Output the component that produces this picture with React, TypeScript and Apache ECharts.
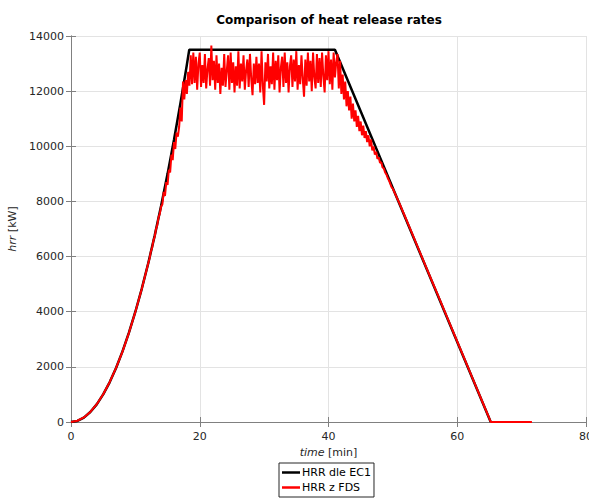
import React, { useEffect, useRef } from "react";
import * as echarts from "echarts";

// ---- Data ----
const xTicks = [0, 20, 40, 60, 80];
const yTicks = [0, 2000, 4000, 6000, 8000, 10000, 12000, 14000];

// HRR according to EC1 (time [min], hrr [kW])
const ec1Time = [0, 1, 2, 3, 4, 5, 6, 7, 8, 9, 10, 11, 12, 13, 14, 15, 16, 17, 18, 18.37, 41.0, 65.2];
const ec1Hrr = [0, 40, 160, 360, 640, 1000, 1440, 1960, 2560, 3240, 4000, 4840, 5760, 6760, 7840, 9000, 10240, 11560, 12960, 13500, 13500, 0];

// HRR from FDS: smooth start
const fdsHeadTime = [0, 1, 2, 3, 4, 5, 6, 7, 8, 9, 10, 11];
const fdsHeadHrr = [0, 45, 165, 365, 645, 1005, 1445, 1960, 2555, 3235, 3995, 4835];
// HRR from FDS: noisy part, sampled every 0.2 min starting at 12.0 min
const fdsNoisyStart = 12.0;
const fdsNoisyStep = 0.2;
const fdsNoisyHrr = [
  5760, 5930, 6180, 6320, 6580, // 12
  6720, 6990, 7140, 7420, 7560, // 13
  7820, 7900, 8350, 8200, 8700, // 14
  8600, 9150, 9050, 9700, 9500, // 15
  10150, 9900, 10500, 10350, 10700, // 16
  11400, 10900, 12350, 11700, 12400, // 17
  11900, 12700, 12200, 13300, 12250, // 18
  13400, 12300, 13250, 12050, 13000, // 19
  13400, 12150, 12950, 12300, 13350, // 20
  12100, 12800, 13200, 12200, 13650, // 21
  12400, 13100, 12050, 13300, 12300, // 22
  13000, 11900, 12850, 12200, 13350, // 23
  12150, 12750, 13300, 12050, 13400, // 24
  12300, 13050, 11950, 12900, 12200, // 25
  13450, 12100, 13000, 12350, 13300, // 26
  12050, 12750, 13150, 12150, 13350, // 27
  12450, 11850, 13000, 12250, 13250, // 28
  12300, 13000, 11950, 13450, 12200, // 29
  11500, 13050, 12350, 13350, 12100, // 30
  12900, 12250, 13400, 12050, 13100, // 31
  12400, 13300, 11950, 12850, 13250, // 32
  12150, 13400, 12300, 13050, 11950, // 33
  12900, 13300, 12150, 13150, 12350, // 34
  13450, 12050, 12950, 12250, 13300, // 35
  12450, 11800, 13150, 12200, 13400, // 36
  12350, 13100, 12000, 13400, 12500, // 37
  12100, 13350, 12300, 13200, 12150, // 38
  13400, 12550, 11950, 13300, 12400, // 39
  13450, 12250, 13150, 12050, 13400, // 40
  12500, 13050, 13350, 12100, 13100, // 41
  11900, 12600, 11700, 12350, 11450, // 42
  12000, 11300, 11800, 11000, 11550, // 43
  10900, 11300, 10700, 11100, 10550, // 44
  10900, 10400, 10750, 10300, 10550, // 45
  10150, 10400, 10000, 10250, 9850, // 46
  10000, 9700, 9800, 9550, 9600, // 47
  9400, 9420, 9230, 9200, 9050, // 48
  8980, 8850, 8760, 8640, 8520, // 49
];
// HRR from FDS: tail
const fdsTailTime = [50, 51, 52, 53, 54, 55, 56, 57, 58, 59, 60, 61, 62, 63, 64, 65, 65.2, 71.6];
const fdsTailHrr = [8460, 7940, 7390, 6830, 6270, 5710, 5150, 4600, 4040, 3480, 2920, 2360, 1800, 1240, 680, 120, 0, 0];

const FONT = "DejaVu Sans";
const AXIS_COLOR = "#808080";
const LABEL_COLOR = "#262626";

export default function App() {
  const ref = useRef<HTMLDivElement>(null);

  useEffect(() => {
    if (!ref.current) return;
    const chart = echarts.init(ref.current, undefined, { renderer: "svg" });

    const ec1Data = ec1Time.map((t, i) => [t, ec1Hrr[i]]);
    const fdsData: number[][] = [];
    fdsHeadTime.forEach((t, i) => fdsData.push([t, fdsHeadHrr[i]]));
    fdsNoisyHrr.forEach((v, i) =>
      fdsData.push([Math.round((fdsNoisyStart + i * fdsNoisyStep) * 100) / 100, v])
    );
    fdsTailTime.forEach((t, i) => fdsData.push([t, fdsTailHrr[i]]));

    const common = {
      min: xTicks[0],
      max: xTicks[xTicks.length - 1],
      interval: xTicks[1] - xTicks[0],
    };
    const commonY = {
      min: yTicks[0],
      max: yTicks[yTicks.length - 1],
      interval: yTicks[1] - yTicks[0],
    };
    const plain = (v: number) => String(v);

    chart.setOption({
      animation: false,
      backgroundColor: "#ffffff",
      title: {
        text: "Comparison of heat release rates",
        left: 329,
        top: 14,
        padding: 0,
        textAlign: "center",
        textStyle: { fontFamily: FONT, fontSize: 12, fontWeight: "bold", color: "#000" },
      },
      grid: {
        left: 71,
        top: 36,
        right: 3,
        bottom: 76,
        containLabel: false,
        outerBoundsMode: "none",
      },
      legend: {
        orient: "vertical",
        left: 279,
        top: 463,
        padding: [4, 3, 4, 3],
        itemGap: 4,
        itemWidth: 18,
        itemHeight: 2.5,
        icon: "rect",
        borderColor: "#262626",
        borderWidth: 1,
        borderRadius: 0,
        backgroundColor: "#fff",
        textStyle: { fontFamily: FONT, fontSize: 11, color: "#000", padding: [0, 0, 0, -3] },
        data: ["HRR dle EC1", "HRR z FDS"],
      },
      xAxis: [
        {
          type: "value",
          position: "bottom",
          ...common,
          name: "{i|time} [min]",
          nameLocation: "middle",
          nameGap: 24,
          nameTextStyle: {
            fontFamily: FONT,
            fontSize: 11,
            color: LABEL_COLOR,
            rich: { i: { fontFamily: FONT, fontSize: 11, color: LABEL_COLOR, fontStyle: "italic" } },
          },
          axisLine: { show: true, lineStyle: { color: AXIS_COLOR, width: 1 } },
          axisTick: { show: true, inside: true, length: 5, lineStyle: { color: AXIS_COLOR } },
          axisLabel: { fontFamily: FONT, fontSize: 11, color: LABEL_COLOR, margin: 9, formatter: plain },
          splitLine: { show: true, lineStyle: { color: "#e3e3e3", width: 1 } },
        },
        {
          type: "value",
          position: "top",
          ...common,
          axisLine: { show: true, lineStyle: { color: AXIS_COLOR, width: 1 } },
          axisTick: { show: true, inside: true, length: 5, lineStyle: { color: AXIS_COLOR } },
          axisLabel: { show: false },
          splitLine: { show: false },
        },
      ],
      yAxis: [
        {
          type: "value",
          position: "left",
          ...commonY,
          name: "{i|hrr} [kW]",
          nameLocation: "middle",
          nameRotate: 90,
          nameGap: 48,
          nameTextStyle: {
            fontFamily: FONT,
            fontSize: 11,
            color: LABEL_COLOR,
            rich: { i: { fontFamily: FONT, fontSize: 11, color: LABEL_COLOR, fontStyle: "italic" } },
          },
          axisLine: { show: true, lineStyle: { color: AXIS_COLOR, width: 1 } },
          axisTick: { show: true, inside: true, length: 5, lineStyle: { color: AXIS_COLOR } },
          axisLabel: { fontFamily: FONT, fontSize: 11, color: LABEL_COLOR, margin: 7, formatter: plain },
          splitLine: { show: true, lineStyle: { color: "#e3e3e3", width: 1 } },
        },
        {
          type: "value",
          position: "right",
          ...commonY,
          axisLine: { show: true, lineStyle: { color: AXIS_COLOR, width: 1 } },
          axisTick: { show: true, inside: true, length: 5, lineStyle: { color: AXIS_COLOR } },
          axisLabel: { show: false },
          splitLine: { show: false },
        },
      ],
      series: [
        {
          name: "HRR dle EC1",
          type: "line",
          xAxisIndex: 0,
          yAxisIndex: 0,
          data: ec1Data,
          symbol: "none",
          lineStyle: { color: "#000000", width: 2.5 },
          itemStyle: { color: "#000000" },
          z: 2,
        },
        {
          name: "HRR z FDS",
          type: "line",
          xAxisIndex: 0,
          yAxisIndex: 0,
          data: fdsData,
          symbol: "none",
          lineStyle: { color: "#ff0000", width: 2 },
          itemStyle: { color: "#ff0000" },
          z: 3,
        },
      ],
    });

    return () => chart.dispose();
  }, []);

  return (
    <div
      ref={ref}
      style={{ position: "fixed", left: 0, top: 0, width: 589, height: 498 }}
    />
  );
}
